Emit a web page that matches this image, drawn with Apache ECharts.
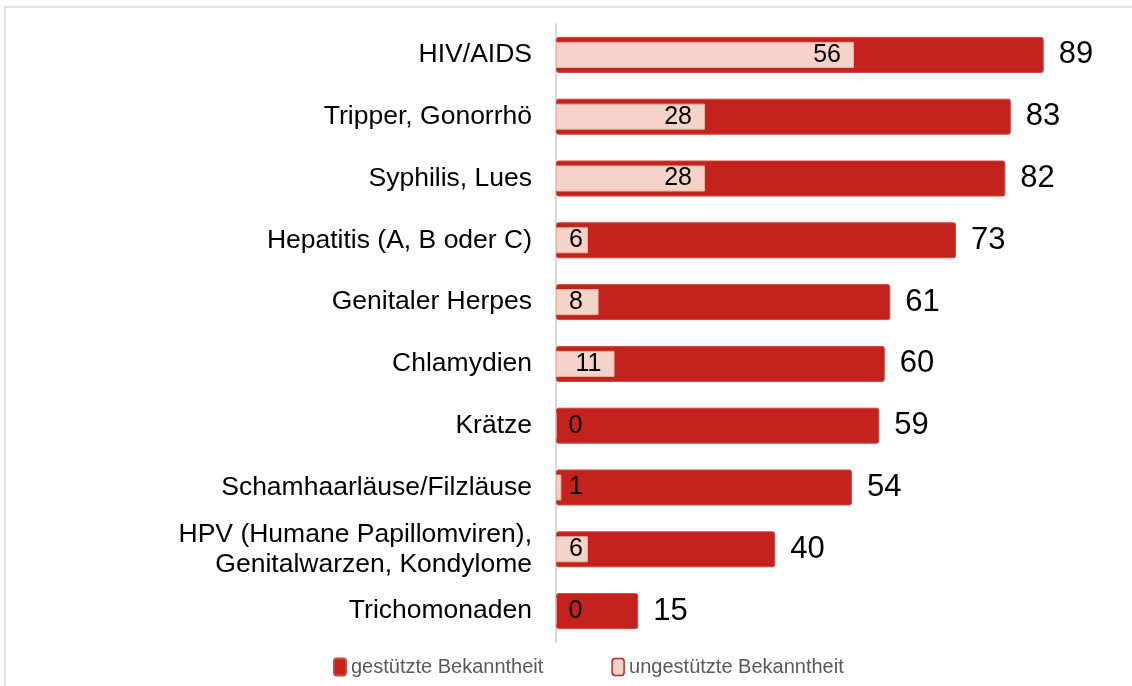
<!DOCTYPE html>
<html>
<head>
<meta charset="utf-8">
<script src="https://cdn.jsdelivr.net/npm/echarts@6/dist/echarts.min.js"></script>
<style>
  html, body { margin: 0; padding: 0; background: #fff; }
  #chart { width: 1132px; height: 686px; }
</style>
</head>
<body>
<div id="chart"></div>
<script>
// Daten
const kategorien = [
  'HIV/AIDS',
  'Tripper, Gonorrhö',
  'Syphilis, Lues',
  'Hepatitis (A, B oder C)',
  'Genitaler Herpes',
  'Chlamydien',
  'Krätze',
  'Schamhaarläuse/Filzläuse',
  'HPV (Humane Papillomviren),\nGenitalwarzen, Kondylome',
  'Trichomonaden'
];
const gestuetzt = [89, 83, 82, 73, 61, 60, 59, 54, 40, 15];
const ungestuetzt = [56, 28, 28, 6, 8, 11, 0, 1, 6, 0];
const serienNamen = ['gestützte Bekanntheit', 'ungestützte Bekanntheit'];

const ROT = '#C4231D';
const ROSA = '#F4D3C8';
const font = '"Liberation Sans", Arial, sans-serif';

const myChart = echarts.init(document.getElementById('chart'));

// kleine Balken: Beschriftung links im Balken (wie Excel)
const ungestuetztData = ungestuetzt.map(v => ({
  value: v,
  label: { position: v < 10 ? 'insideLeft' : 'insideRight' }
}));

myChart.setOption({
  animation: false,
  textStyle: { fontFamily: font },
  graphic: [{
    type: 'rect',
    shape: { x: 5, y: 7, width: 1300, height: 900 },
    style: { fill: 'none', stroke: '#D9D9D9', lineWidth: 1.5 },
    silent: true
  }],
  grid: { left: 556, top: 24, width: 548, height: 618 },
  legend: {
    left: 333,
    top: 657,
    padding: 0,
    itemWidth: 12,
    itemHeight: 17,
    itemGap: 68,
    icon: 'roundRect',
    textStyle: { fontSize: 20, color: '#595959', fontFamily: font },
    data: [
      { name: serienNamen[0] },
      { name: serienNamen[1], itemStyle: { borderColor: ROT, borderWidth: 1.5 } }
    ]
  },
  xAxis: [
    { type: 'value', min: 0, max: 100, show: false },
    // Sekundärachse für ungestützte Werte (etwas andere Skalierung wie im Original)
    { type: 'value', min: 0, max: 103, show: false }
  ],
  yAxis: [
    {
      type: 'category',
      data: kategorien,
      inverse: true,
      axisLine: { show: true, lineStyle: { color: '#D9D9D9', width: 2 } },
      axisTick: { show: false },
      axisLabel: {
        margin: 24,
        fontSize: 26.5,
        color: '#000',
        fontFamily: font,
        lineHeight: 30
      }
    },
    {
      type: 'category',
      data: kategorien,
      inverse: true,
      show: false
    }
  ],
  series: [
    {
      name: serienNamen[0],
      type: 'bar',
      xAxisIndex: 0,
      yAxisIndex: 0,
      barWidth: 36,
      data: gestuetzt,
      itemStyle: { color: ROT, borderRadius: 2, borderColor: '#D0463F', borderWidth: 1 },
      label: {
        show: true,
        position: 'right',
        distance: 15,
        fontSize: 31,
        color: '#000',
        fontFamily: font
      },
      z: 2
    },
    {
      name: serienNamen[1],
      type: 'bar',
      xAxisIndex: 1,
      yAxisIndex: 1,
      barWidth: 26,
      data: ungestuetztData,
      itemStyle: { color: ROSA, borderColor: '#EDB3A6', borderWidth: 1 },
      label: {
        show: true,
        distance: 13,
        fontSize: 25,
        color: '#000',
        fontFamily: font
      },
      z: 3
    }
  ]
});

window.onresize = function () {
  myChart.resize();
};
</script>
</body>
</html>
